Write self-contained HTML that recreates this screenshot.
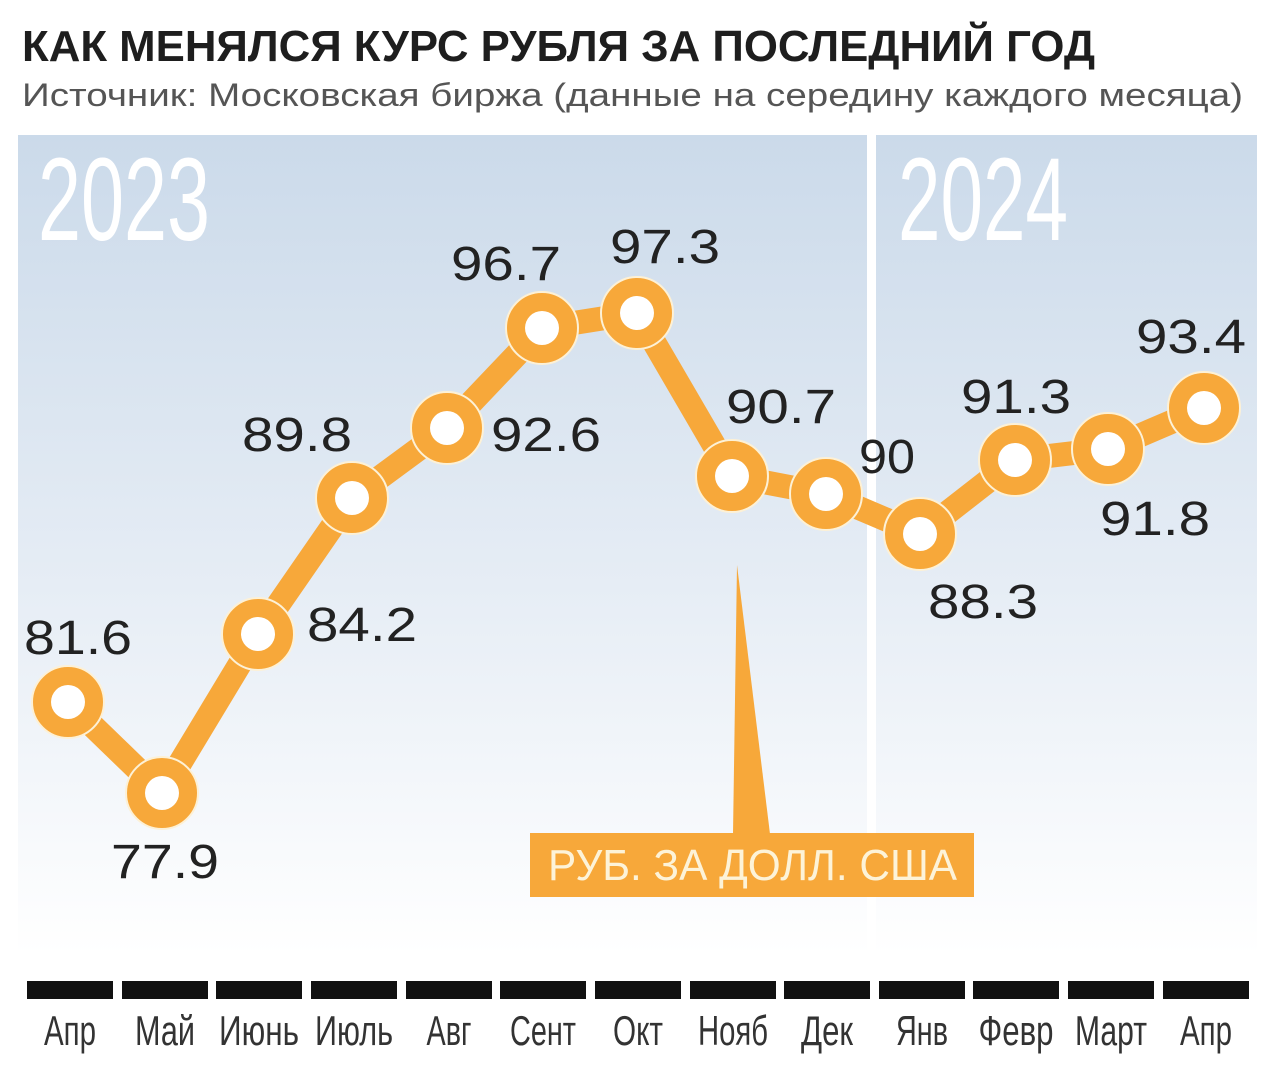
<!DOCTYPE html>
<html><head><meta charset="utf-8"><style>
html,body{margin:0;padding:0;background:#fff;}
svg{display:block;}
text{font-family:"Liberation Sans","DejaVu Sans",sans-serif;}
</style></head><body>
<svg width="1273" height="1078" viewBox="0 0 1273 1078" xmlns="http://www.w3.org/2000/svg">
<defs>
<linearGradient id="bg" x1="0" y1="0" x2="0" y2="1">
<stop offset="0" stop-color="#cbdaea"/>
<stop offset="0.55" stop-color="#e6edf5"/>
<stop offset="1" stop-color="#ffffff"/>
</linearGradient>
</defs>
<rect x="0" y="0" width="1273" height="1078" fill="#fff"/>
<text x="22" y="61" font-size="44" font-weight="bold" fill="#1e1e1e" textLength="1073" lengthAdjust="spacingAndGlyphs">КАК МЕНЯЛСЯ КУРС РУБЛЯ ЗА ПОСЛЕДНИЙ ГОД</text>
<text x="22" y="106" font-size="32" fill="#555" textLength="1221" lengthAdjust="spacingAndGlyphs">Источник: Московская биржа (данные на середину каждого месяца)</text>
<rect x="18" y="135" width="1239" height="820" fill="url(#bg)"/>
<rect x="867" y="135" width="9" height="820" fill="#fff"/>
<text x="38" y="240" font-size="118" fill="#fff" textLength="172" lengthAdjust="spacingAndGlyphs">2023</text>
<text x="898" y="240" font-size="118" fill="#fff" textLength="170" lengthAdjust="spacingAndGlyphs">2024</text>
<polygon points="737,565 733,834 770,834" fill="#f7a83a"/>
<rect x="530" y="833" width="444" height="64" fill="#f7a83a"/>
<text x="548" y="880" font-size="44" fill="#fdf3d8" textLength="409" lengthAdjust="spacingAndGlyphs">РУБ. ЗА ДОЛЛ. США</text>
<polyline points="68,702 162,793 258,634 352,498 447,428 542,328 637,313 732,476 826,494 920,534 1015,460 1108,449 1204,408" fill="none" stroke="#f7a83a" stroke-width="24" stroke-linejoin="round"/>
<g fill="#f7a83a" stroke="#fdf1d6" stroke-width="2">
<circle cx="68" cy="702" r="36"/><circle cx="162" cy="793" r="36"/><circle cx="258" cy="634" r="36"/><circle cx="352" cy="498" r="36"/><circle cx="447" cy="428" r="36"/><circle cx="542" cy="328" r="36"/><circle cx="637" cy="313" r="36"/><circle cx="732" cy="476" r="36"/><circle cx="826" cy="494" r="36"/><circle cx="920" cy="534" r="36"/><circle cx="1015" cy="460" r="36"/><circle cx="1108" cy="449" r="36"/><circle cx="1204" cy="408" r="36"/>
</g>
<g fill="#fff">
<circle cx="68" cy="702" r="17"/><circle cx="162" cy="793" r="17"/><circle cx="258" cy="634" r="17"/><circle cx="352" cy="498" r="17"/><circle cx="447" cy="428" r="17"/><circle cx="542" cy="328" r="17"/><circle cx="637" cy="313" r="17"/><circle cx="732" cy="476" r="17"/><circle cx="826" cy="494" r="17"/><circle cx="920" cy="534" r="17"/><circle cx="1015" cy="460" r="17"/><circle cx="1108" cy="449" r="17"/><circle cx="1204" cy="408" r="17"/>
</g>
<g font-size="48" fill="#222" lengthAdjust="spacingAndGlyphs">
<text x="24" y="654" textLength="108" lengthAdjust="spacingAndGlyphs">81.6</text>
<text x="111" y="878" textLength="108" lengthAdjust="spacingAndGlyphs">77.9</text>
<text x="307" y="641" textLength="110" lengthAdjust="spacingAndGlyphs">84.2</text>
<text x="242" y="451" textLength="110" lengthAdjust="spacingAndGlyphs">89.8</text>
<text x="491" y="451" textLength="110" lengthAdjust="spacingAndGlyphs">92.6</text>
<text x="451" y="280" textLength="110" lengthAdjust="spacingAndGlyphs">96.7</text>
<text x="610" y="263" textLength="110" lengthAdjust="spacingAndGlyphs">97.3</text>
<text x="726" y="423" textLength="110" lengthAdjust="spacingAndGlyphs">90.7</text>
<text x="859" y="473" textLength="56" lengthAdjust="spacingAndGlyphs">90</text>
<text x="928" y="618" textLength="110" lengthAdjust="spacingAndGlyphs">88.3</text>
<text x="961" y="413" textLength="110" lengthAdjust="spacingAndGlyphs">91.3</text>
<text x="1100" y="535" textLength="110" lengthAdjust="spacingAndGlyphs">91.8</text>
<text x="1136" y="353" textLength="110" lengthAdjust="spacingAndGlyphs">93.4</text>
</g>
<g fill="#111">
<rect x="27" y="981" width="86" height="18"/><rect x="122" y="981" width="86" height="18"/><rect x="216" y="981" width="86" height="18"/><rect x="311" y="981" width="86" height="18"/><rect x="406" y="981" width="86" height="18"/><rect x="500" y="981" width="86" height="18"/><rect x="595" y="981" width="86" height="18"/><rect x="690" y="981" width="86" height="18"/><rect x="784" y="981" width="86" height="18"/><rect x="879" y="981" width="86" height="18"/><rect x="973" y="981" width="86" height="18"/><rect x="1068" y="981" width="86" height="18"/><rect x="1163" y="981" width="86" height="18"/>
</g>
<g font-size="42" fill="#333" text-anchor="middle">
<text x="70" y="1045" textLength="52" lengthAdjust="spacingAndGlyphs">Апр</text>
<text x="165" y="1045" textLength="60" lengthAdjust="spacingAndGlyphs">Май</text>
<text x="259" y="1045" textLength="80" lengthAdjust="spacingAndGlyphs">Июнь</text>
<text x="354" y="1045" textLength="78" lengthAdjust="spacingAndGlyphs">Июль</text>
<text x="449" y="1045" textLength="45" lengthAdjust="spacingAndGlyphs">Авг</text>
<text x="543" y="1045" textLength="66" lengthAdjust="spacingAndGlyphs">Сент</text>
<text x="638" y="1045" textLength="50" lengthAdjust="spacingAndGlyphs">Окт</text>
<text x="733" y="1045" textLength="70" lengthAdjust="spacingAndGlyphs">Нояб</text>
<text x="827" y="1045" textLength="52" lengthAdjust="spacingAndGlyphs">Дек</text>
<text x="922" y="1045" textLength="52" lengthAdjust="spacingAndGlyphs">Янв</text>
<text x="1016" y="1045" textLength="75" lengthAdjust="spacingAndGlyphs">Февр</text>
<text x="1111" y="1045" textLength="72" lengthAdjust="spacingAndGlyphs">Март</text>
<text x="1206" y="1045" textLength="52" lengthAdjust="spacingAndGlyphs">Апр</text>
</g>
</svg>
</body></html>
